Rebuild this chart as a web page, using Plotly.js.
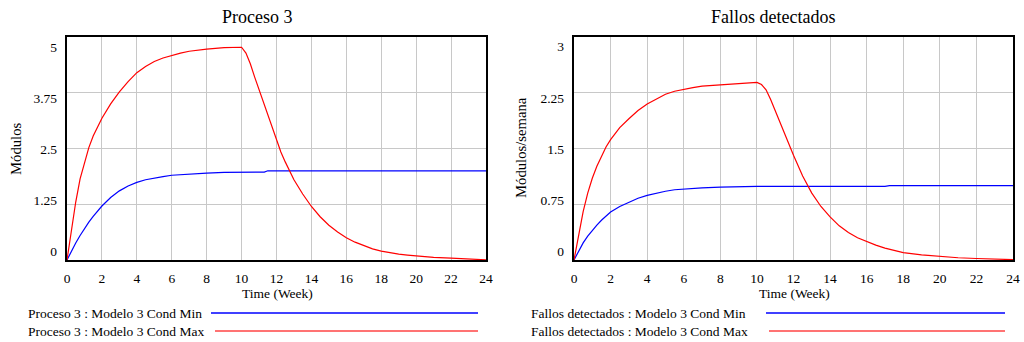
<!DOCTYPE html>
<html>
<head>
<meta charset="utf-8">
<script src="https://cdn.plot.ly/plotly-3.0.1.min.js"></script>
<style>html,body{margin:0;padding:0;background:#fff;}#chart{width:1024px;height:342px;}</style>
</head>
<body>
<div id="chart"></div>
<script>
// ---- data ----
const procMaxTime = [0,0.25,0.5,0.75,1,1.25,1.5,1.75,2,2.5,3,3.5,4,4.5,5,5.5,6,6.5,7,7.5,8,9,10,10.25,10.5,10.75,11,11.25,11.5,11.75,12,12.25,12.5,13,13.5,14,14.5,15,15.5,16,16.5,17,17.5,18,18.5,19,19.5,20,21,22,23,24];
const procMax = [0,0.7,1.3,1.82,2.2,2.52,2.78,3.0,3.18,3.5,3.77,4.0,4.2,4.34,4.45,4.53,4.59,4.64,4.68,4.71,4.73,4.76,4.77,4.64,4.4,4.1,3.82,3.52,3.22,2.93,2.66,2.42,2.2,1.8,1.48,1.2,0.97,0.78,0.63,0.5,0.4,0.32,0.25,0.2,0.16,0.13,0.11,0.09,0.06,0.04,0.02,0.005];
const procMinTime = [0,0.25,0.5,0.75,1,1.25,1.5,1.75,2,2.5,3,3.5,4,4.5,5,5.5,6,7,8,9,10,11,11.3,11.5,24];
const procMin = [0,0.2,0.38,0.55,0.71,0.85,0.98,1.1,1.21,1.4,1.55,1.66,1.74,1.8,1.84,1.87,1.9,1.93,1.95,1.965,1.97,1.97,1.97,2.0,2.0];
const fallMaxTime = [0,0.25,0.5,0.75,1,1.25,1.5,1.75,2,2.5,3,3.5,4,4.5,5,5.5,6,6.5,7,8,9,10,10.25,10.5,10.75,11,11.5,12,12.5,13,13.5,14,14.5,15,15.5,16,16.5,17,17.5,18,19,20,21,22,23,24];
const fallMax = [0,0.35,0.65,0.9,1.1,1.26,1.4,1.52,1.62,1.78,1.9,2.01,2.1,2.17,2.23,2.27,2.3,2.32,2.34,2.36,2.375,2.39,2.36,2.29,2.16,2.01,1.7,1.41,1.13,0.9,0.72,0.58,0.46,0.37,0.3,0.245,0.2,0.16,0.125,0.1,0.07,0.045,0.03,0.02,0.01,0.005];
const fallMinTime = [0,0.25,0.5,0.75,1,1.25,1.5,1.75,2,2.5,3,3.5,4,4.5,5,5.5,6,7,8,9,10,17,17.25,24];
const fallMin = [0,0.12,0.23,0.32,0.4,0.47,0.535,0.59,0.645,0.72,0.78,0.83,0.87,0.9,0.925,0.945,0.955,0.97,0.98,0.985,0.99,0.99,1.0,1.0];

const xTicks = [0,2,4,6,8,10,12,14,16,18,20,22,24];
const procTicks = [0,1.25,2.5,3.75,5];
const fallTicks = [0,0.75,1.5,2.25,3];

const titles = ["Proceso 3", "Fallos detectados"];
const yTitles = ["Módulos", "Módulos/semana"];
const xTitle = "Time (Week)";
const legendProc = ["Proceso 3 : Modelo 3 Cond Min", "Proceso 3 : Modelo 3 Cond Max"];
const legendFall = ["Fallos detectados : Modelo 3 Cond Min", "Fallos detectados : Modelo 3 Cond Max"];

// ---- helpers ----
const W = 1024, H = 342;
const px = x => x / W;
const py = y => 1 - y / H;
const FONT = "Liberation Serif, Times New Roman, serif";
const BLUE = "#0000ff", RED = "#ff0000";
const lineStyle = c => ({color: c, width: 1.2});

const traces = [
  {x: procMinTime, y: procMin, xaxis: "x", yaxis: "y", mode: "lines", line: lineStyle(BLUE), hoverinfo: "skip"},
  {x: procMaxTime, y: procMax, xaxis: "x", yaxis: "y", mode: "lines", line: lineStyle(RED), hoverinfo: "skip"},
  {x: fallMinTime, y: fallMin, xaxis: "x2", yaxis: "y2", mode: "lines", line: lineStyle(BLUE), hoverinfo: "skip"},
  {x: fallMaxTime, y: fallMax, xaxis: "x2", yaxis: "y2", mode: "lines", line: lineStyle(RED), hoverinfo: "skip"},
  // empty traces so the tick-label axes get drawn
  {x: [], y: [], xaxis: "x", yaxis: "y3", mode: "lines", hoverinfo: "skip"},
  {x: [], y: [], xaxis: "x2", yaxis: "y4", mode: "lines", hoverinfo: "skip"}
];

const yTop = 37, yBot = 260;
const xAxisBase = (dom) => ({
  domain: dom, range: [0, 24], tickvals: xTicks, ticktext: xTicks.map(String),
  showgrid: true, gridcolor: "#c8c8c8", gridwidth: 1, zeroline: false,
  showline: true, mirror: true, linecolor: "#000", linewidth: 2,
  ticks: "", ticklabelstandoff: 5,
  tickfont: {family: FONT, size: 13.5, color: "#000"}, fixedrange: true
});
const yGridAxis = (rng, ticks, anchor) => ({
  domain: [py(yBot), py(yTop)], range: rng, tickvals: ticks, anchor: anchor,
  showgrid: true, gridcolor: "#c8c8c8", gridwidth: 1, zeroline: false,
  showline: true, mirror: true, linecolor: "#000", linewidth: 2,
  showticklabels: false, ticks: "", fixedrange: true
});
// label axes: labels spread evenly between top and bottom (Vensim style)
const yLabelAxis = (rng, ticks, overl, anchor) => ({
  overlaying: overl, anchor: anchor, range: rng, tickvals: ticks, ticktext: ticks.map(String),
  showgrid: false, zeroline: false, showline: false, ticks: "", ticklabelstandoff: 9,
  tickfont: {family: FONT, size: 13.5, color: "#000"}, fixedrange: true
});

const annFont = s => ({family: FONT, size: s, color: "#000"});
const layout = {
  width: W, height: H, margin: {l: 0, r: 0, t: 0, b: 0},
  paper_bgcolor: "#fff", plot_bgcolor: "#fff", showlegend: false,
  font: {family: FONT, color: "#000"},
  xaxis: xAxisBase([px(67), px(486)]),
  xaxis2: xAxisBase([px(574), px(1013)]),
  yaxis: yGridAxis([0, 5], procTicks, "x"),
  yaxis2: yGridAxis([0, 3], fallTicks, "x2"),
  yaxis3: yLabelAxis([-0.203, 5.252], procTicks, "y", "x"),
  yaxis4: yLabelAxis([-0.121, 3.142], fallTicks, "y2", "x2"),
  annotations: [
    {text: titles[0], x: px(257), y: py(17), xref: "paper", yref: "paper", showarrow: false, xanchor: "center", yanchor: "middle", font: annFont(18)},
    {text: titles[1], x: px(773), y: py(17), xref: "paper", yref: "paper", showarrow: false, xanchor: "center", yanchor: "middle", font: annFont(18)},
    {text: yTitles[0], x: px(16), y: py(149), xref: "paper", yref: "paper", showarrow: false, textangle: -90, xanchor: "center", yanchor: "middle", font: annFont(14.7)},
    {text: yTitles[1], x: px(521), y: py(148), xref: "paper", yref: "paper", showarrow: false, textangle: -90, xanchor: "center", yanchor: "middle", font: annFont(14.7)},
    {text: xTitle, x: px(277), y: py(293), xref: "paper", yref: "paper", showarrow: false, xanchor: "center", yanchor: "middle", font: annFont(13.5)},
    {text: xTitle, x: px(794), y: py(293), xref: "paper", yref: "paper", showarrow: false, xanchor: "center", yanchor: "middle", font: annFont(13.5)},
    {text: legendProc[0], x: px(26), y: py(313), xref: "paper", yref: "paper", showarrow: false, xanchor: "left", yanchor: "middle", font: annFont(13.5)},
    {text: legendProc[1], x: px(26), y: py(331), xref: "paper", yref: "paper", showarrow: false, xanchor: "left", yanchor: "middle", font: annFont(13.5)},
    {text: legendFall[0], x: px(529), y: py(313), xref: "paper", yref: "paper", showarrow: false, xanchor: "left", yanchor: "middle", font: annFont(13.5)},
    {text: legendFall[1], x: px(529), y: py(331), xref: "paper", yref: "paper", showarrow: false, xanchor: "left", yanchor: "middle", font: annFont(13.5)}
  ],
  shapes: [
    {type: "line", xref: "paper", yref: "paper", x0: px(211), x1: px(478), y0: py(313), y1: py(313), line: {color: BLUE, width: 1.3}},
    {type: "line", xref: "paper", yref: "paper", x0: px(215), x1: px(478), y0: py(331), y1: py(331), line: {color: "#ff7373", width: 2.2}},
    {type: "line", xref: "paper", yref: "paper", x0: px(766), x1: px(1005), y0: py(313), y1: py(313), line: {color: BLUE, width: 1.3}},
    {type: "line", xref: "paper", yref: "paper", x0: px(769), x1: px(1005), y0: py(331), y1: py(331), line: {color: "#ff7373", width: 2.2}}
  ]
};

Plotly.newPlot("chart", traces, layout, {staticPlot: true, displayModeBar: false});
</script>
</body>
</html>
